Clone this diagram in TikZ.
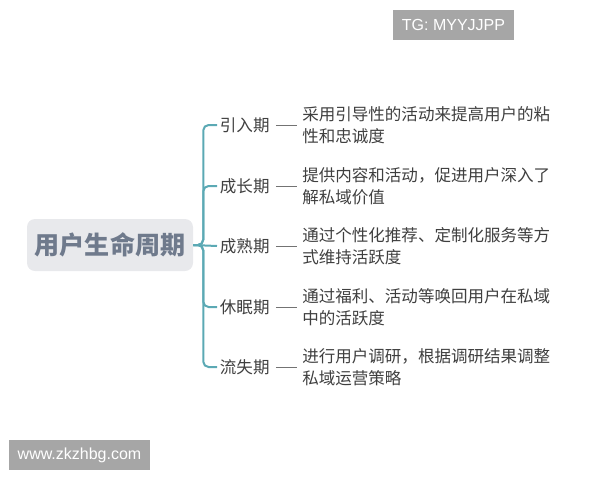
\documentclass[tikz,border=0pt]{standalone}
\usepackage{fontspec}
\setmainfont{Noto Sans CJK SC}
\newfontfamily\wmfont{Liberation Sans}
\definecolor{spinecol}{HTML}{5BA9B4}
\definecolor{rootfill}{HTML}{E8E9EC}
\definecolor{roottext}{HTML}{6F7A8C}
\definecolor{stagetext}{HTML}{3F3F3F}
\definecolor{wmgray}{HTML}{A6A6A6}
\begin{document}
\begin{tikzpicture}[x=0.75pt,y=-0.75pt,
    rootbox/.style={fill=rootfill, rounded corners=6pt, minimum width=124.5pt, minimum height=39pt,
        text=roottext, font=\fontsize{18.8}{20}\selectfont\bfseries},
    stage/.style={anchor=west, inner sep=2pt, text=stagetext, font=\fontsize{12.4}{15}\selectfont},
    desc/.style={anchor=west, inner sep=0pt, align=left, text=stagetext, font=\fontsize{12.4}{16.5}\selectfont},
    branch/.style={spinecol, line width=1.5pt, rounded corners=4pt},
    tick/.style={gray!90!black, thin, shorten <=2.5pt, shorten >=3.75pt},
    wmbox/.style={fill=wmgray, text=white, inner sep=0pt, minimum height=22.5pt, font=\wmfont\fontsize{12}{14}\selectfont}]
    \useasboundingbox (0,0) rectangle (600,480);
    \node[rootbox] (root) at (110,245) {用户生命周期};
    \foreach \n/\y/\s/\d in {1/125/引入期/{采用引导性的活动来提高用户的粘\\性和忠诚度},
        2/186/成长期/{提供内容和活动，促进用户深入了\\解私域价值},
        3/246/成熟期/{通过个性化推荐、定制化服务等方\\式维持活跃度},
        4/307/休眠期/{通过福利、活动等唤回用户在私域\\中的活跃度},
        5/367/流失期/{进行用户调研，根据调研结果调整\\私域运营策略}}{
        \node[stage] (s\n) at (217,\y) {\s};
        \node[desc] (d\n) at (302,\y) {\d};
        \ifnum\n=3
            \draw[branch] (root.east) -- (s\n.west);
        \else
            \draw[branch] (root.east) -- ++(10,0) |- (s\n.west);
        \fi
        \draw[tick] (s\n.east) -- (d\n.west);
    }
    \node[wmbox, minimum width=90.75pt] (tg) at (453.5,25) {TG: MYYJJPP};
    \node[wmbox, minimum width=105.75pt] (site) at (79.5,455) {www.zkzhbg.com};
\end{tikzpicture}
\end{document}
